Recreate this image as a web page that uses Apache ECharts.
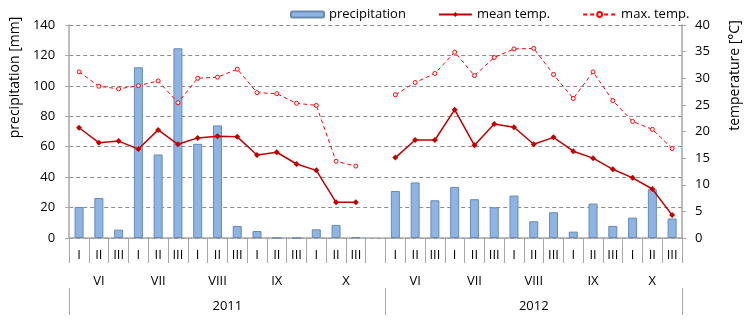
<!DOCTYPE html>
<html>
<head>
<meta charset="utf-8">
<script src="https://cdn.jsdelivr.net/npm/echarts@6/dist/echarts.min.js"></script>
<style>
    html, body {margin: 0; padding: 0; background: #fff;}
    #chart {width: 750px; height: 323px;}
</style>
</head>
<body>
<div id="chart"></div>
<script>
// tick labels
var years = ['2011', '2012'];
var months = ['VI', 'VII', 'VIII', 'IX', 'X'];
var decades = ['I', 'II', 'III'];

// precipitation [mm], per decade
var precip2011 = [20.4, 26.3, 5.5, 112.2, 54.9, 124.7, 61.9, 74.0, 7.9, 4.6, 0, 0, 5.7, 8.6, 0.5];
var precip2012 = [30.9, 36.5, 24.8, 33.6, 25.5, 20.2, 27.9, 11.0, 16.9, 4.2, 22.6, 7.9, 13.4, 32.0, 12.8];

// mean temperature [°C]
var mean2011 = [20.7, 17.9, 18.2, 16.7, 20.3, 17.6, 18.8, 19.1, 19.0, 15.6, 16.1, 13.9, 12.7, 6.7, 6.7];
var mean2012 = [15.1, 18.4, 18.4, 24.1, 17.4, 21.4, 20.8, 17.6, 18.9, 16.3, 15.0, 12.9, 11.3, 9.2, 4.3];

// max temperature [°C]
var max2011 = [31.2, 28.5, 28.0, 28.6, 29.5, 25.4, 30.0, 30.2, 31.7, 27.3, 27.1, 25.3, 24.9, 14.4, 13.5];
var max2012 = [26.9, 29.2, 30.9, 34.9, 30.5, 33.9, 35.5, 35.6, 30.7, 26.2, 31.2, 25.8, 21.9, 20.4, 16.8];

(function () {
    var GRID_L = 68, GRID_R = 68;

    //build the category cells, with one empty cell after 2011
    var cells = [];
    years.forEach(function (y, yi) {
        months.forEach(function (m) {
            decades.forEach(function (d) {
                cells.push({year: y, month: m, dec: d});
            });
        });
        if (yi === 0) {
            cells.push({year: y, month: months[months.length - 1], dec: ''});
        }
    });
    var catIds = cells.map(function (c, i) { return String(i); });
    var band = (750 - GRID_L - GRID_R) / cells.length;

    // groups of consecutive cells with the same key
    function groups(keyFn) {
        var starts = {}, labels = {};
        var i = 0;
        while (i < cells.length) {
            var j = i;
            while (j + 1 < cells.length && keyFn(cells[j + 1]) === keyFn(cells[i])) j++;
            starts[i] = true;
            var c = (i + j) / 2;
            labels[Math.floor(c)] = {text: keyFn(cells[i]).split('|').pop(), shift: c !== Math.floor(c)};
            i = j + 1;
        }
        return {starts: starts, labels: labels};
    }
    var monthGroups = groups(function (c) { return c.year + '|' + c.month; });
    var yearGroups = groups(function (c) { return c.year; });

    function groupFormatter(g) {
        return function (v, idx) {
            var l = g.labels[idx];
            if (!l) return '';
            return l.shift ? '{s|' + l.text + '}' : '{n|' + l.text + '}';
        };
    }

    var precip = precip2011.concat([null], precip2012);
    var meanT = mean2011.concat([null], mean2012);
    var maxT = max2011.concat([null], max2012);

    var font = '"Open Sans", sans-serif';
    var axisGray = '#A6A6A6';
    var rich = {
        n: {color: '#000', fontSize: 13, fontFamily: font},
        s: {color: '#000', fontSize: 13, fontFamily: font, padding: [0, 0, 0, band]}
    };

    function groupAxis(g, offset, tickLen) {
        return {
            type: 'category',
            position: 'bottom',
            offset: offset,
            data: catIds,
            axisLine: {show: false},
            axisTick: {
                show: true,
                length: tickLen,
                interval: function (idx) { return !!g.starts[idx]; },
                lineStyle: {color: axisGray, width: 1}
            },
            axisLabel: {
                interval: 0,
                margin: 12,
                fontFamily: font,
                formatter: groupFormatter(g),
                rich: rich
            },
            splitLine: {show: false}
        };
    }

    var option = {
        animation: false,
        textStyle: {fontFamily: font},
        legend: {
            left: 285,
            top: 3,
            itemGap: 32,
            itemWidth: 33,
            itemHeight: 6,
            textStyle: {color: '#000', fontSize: 13, fontFamily: font},
            data: ['precipitation', 'mean temp.', 'max. temp.']
        },
        grid: {left: GRID_L, right: GRID_R, top: 25, bottom: 85, containLabel: false},
        xAxis: [
            {
                type: 'category',
                position: 'bottom',
                data: catIds,
                axisLine: {show: true, lineStyle: {color: axisGray, width: 1.5}},
                axisTick: {show: true, length: 25, interval: 0, lineStyle: {color: axisGray, width: 1}},
                axisLabel: {
                    interval: 0,
                    margin: 11,
                    color: '#000',
                    fontSize: 13,
                    fontFamily: font,
                    formatter: function (v, idx) { return cells[idx].dec; }
                },
                splitLine: {show: false}
            },
            groupAxis(monthGroups, 25, 25),
            groupAxis(yearGroups, 50, 27)
        ],
        yAxis: [
            {
                type: 'value',
                position: 'left',
                min: 0,
                max: 140,
                interval: 20,
                name: 'precipitation [mm]',
                nameLocation: 'middle',
                nameRotate: 90,
                nameGap: 46,
                nameTextStyle: {color: '#000', fontSize: 14, fontFamily: font, padding: [0, 0, 0, 108]},
                axisLine: {show: true, lineStyle: {color: axisGray, width: 1.5}},
                axisTick: {show: true, length: 4, lineStyle: {color: axisGray}},
                axisLabel: {margin: 14, color: '#000', fontSize: 13, fontFamily: font},
                splitLine: {show: true, lineStyle: {color: '#8C8C8C', type: [4, 3], width: 1}}
            },
            {
                type: 'value',
                position: 'right',
                min: 0,
                max: 40,
                interval: 5,
                name: 'temperature [°C]',
                nameLocation: 'middle',
                nameRotate: 90,
                nameGap: 46,
                nameTextStyle: {color: '#000', fontSize: 14, fontFamily: font, padding: [0, 0, 0, 112]},
                axisLine: {show: true, lineStyle: {color: axisGray, width: 1.5}},
                axisTick: {show: true, length: 4, lineStyle: {color: axisGray}},
                axisLabel: {margin: 13, color: '#000', fontSize: 13, fontFamily: font},
                splitLine: {show: false}
            }
        ],
        series: [
            {
                name: 'precipitation',
                type: 'bar',
                yAxisIndex: 0,
                barWidth: 9,
                data: precip,
                itemStyle: {color: '#8DB4E2', borderColor: '#6A89B3', borderWidth: 1}
            },
            {
                name: 'mean temp.',
                type: 'line',
                yAxisIndex: 1,
                data: meanT,
                symbol: 'diamond',
                symbolSize: 6,
                showAllSymbol: true,
                lineStyle: {color: '#C00000', width: 1.5},
                itemStyle: {color: '#C00000'}
            },
            {
                name: 'max. temp.',
                type: 'line',
                yAxisIndex: 1,
                data: maxT,
                symbol: 'circle',
                symbolSize: 4,
                showAllSymbol: true,
                lineStyle: {color: '#FF0000', width: 1, type: [4, 3]},
                itemStyle: {color: '#fff', borderColor: '#FF0000', borderWidth: 1}
            }
        ]
    };

    var chart = echarts.init(document.getElementById('chart'));
    chart.setOption(option);
})();
</script>
</body>
</html>
